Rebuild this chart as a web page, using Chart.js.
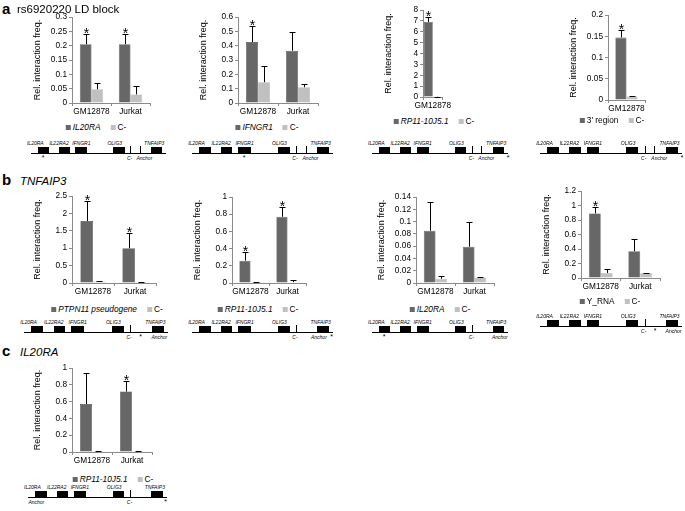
<!DOCTYPE html>
<html>
<head>
<meta charset="utf-8">
<script src="https://cdn.jsdelivr.net/npm/chart.js@4.4.1/dist/chart.umd.min.js"></script>
<style>
  body { margin: 0; width: 685px; height: 511px; position: relative; background: #fff; overflow: hidden;
         font-family: "Liberation Sans", Arial, sans-serif; color: #000; }
  .abs { position: absolute; white-space: nowrap; }
  .letter { font-weight: bold; font-size: 15px; line-height: 15px; }
  .head { font-size: 11.5px; line-height: 12px; }
  .legend { font-size: 8.3px; line-height: 9px; transform: translateX(-50%); color: #000; }
  .legend i.sw { display: inline-block; width: 5px; height: 5px; margin-right: 2px; vertical-align: 0; }
  .legend span + span { margin-left: 10px; }
  .lab { font-size: 5px; line-height: 6px; font-style: italic; transform: translateX(-50%); color: #000; }
  canvas { position: absolute; }
</style>
</head>
<body>
<script>
// Cell lines on the x axis
const cellLines = ['GM12878', 'Jurkat'];
const gmOnly = ['GM12878'];

// a: rs6920220 LD block
const a1Main = [0.205, 0.205], a1MainErr = [0.037, 0.037], a1Ctrl = [0.048, 0.030], a1CtrlErr = [0.022, 0.031];
const a2Main = [0.425, 0.365], a2MainErr = [0.110, 0.130], a2Ctrl = [0.145, 0.110], a2CtrlErr = [0.110, 0.025];
const a3Main = [6.9], a3MainErr = [0.5], a3Ctrl = [0.02], a3CtrlErr = [0.01];
const a4Main = [0.147], a4MainErr = [0.018], a4Ctrl = [0.008], a4CtrlErr = [0.002];

// b: TNFAIP3
const b1Main = [1.78, 1.00], b1MainErr = [0.58, 0.45], b1Ctrl = [0.04, 0.03], b1CtrlErr = [0.005, 0.005];
const b2Main = [0.26, 0.77], b2MainErr = [0.10, 0.11], b2Ctrl = [0.01, 0.01], b2CtrlErr = [0.002, 0.02];
const b3Main = [0.085, 0.059], b3MainErr = [0.047, 0.040], b3Ctrl = [0.007, 0.008], b3CtrlErr = [0.004, 0.001];
const b4Main = [0.89, 0.37], b4MainErr = [0.09, 0.17], b4Ctrl = [0.07, 0.065], b4CtrlErr = [0.05, 0.005];

// c: IL20RA
const c1Main = [0.57, 0.72], c1MainErr = [0.37, 0.13], c1Ctrl = [0.01, 0.01], c1CtrlErr = [0.002, 0.002];

// y axis ranges (max, step)
const a1Ticks = [0.3, 0.05], a2Ticks = [0.6, 0.1], a3Ticks = [8, 1], a4Ticks = [0.2, 0.05];
const b1Ticks = [2.5, 0.5], b2Ticks = [1, 0.2], b3Ticks = [0.14, 0.02], b4Ticks = [1.2, 0.2];
const c1Ticks = [1, 0.2];

Chart.defaults.font.family = '"Liberation Sans", Arial, sans-serif';
Chart.defaults.color = '#000';

const DARK = '#676767', LIGHT = '#c0c0c0', AXIS = '#8a8a8a';

// error bars (upper only) and significance stars
const errorBars = {
  id: 'errorBars',
  afterDatasetsDraw(chart) {
    const { ctx, scales: { y } } = chart;
    ctx.save();
    ctx.strokeStyle = '#000';
    ctx.fillStyle = '#000';
    ctx.lineWidth = 1;
    ctx.textAlign = 'center';
    ctx.textBaseline = 'alphabetic';
    ctx.font = '14px "Liberation Sans", Arial, sans-serif';
    chart.data.datasets.forEach((ds, di) => {
      chart.getDatasetMeta(di).data.forEach((bar, i) => {
        const x = Math.round(bar.x) + 0.5;
        const top = Math.round(y.getPixelForValue(ds.data[i] + ds.errors[i])) + 0.5;
        ctx.beginPath();
        ctx.moveTo(x, bar.y);
        ctx.lineTo(x, top);
        ctx.moveTo(x - 3, top);
        ctx.lineTo(x + 3, top);
        ctx.stroke();
        if (ds.stars && ds.stars[i]) ctx.fillText('*', x, top + 3);
      });
    });
    ctx.restore();
  }
};

const Y_W = 40, PAD_T = 8, PAD_R = 6, X_H = 16;

function makeChart(p) {
  const cv = document.createElement('canvas');
  const w = Y_W + (p.R - p.L) + PAD_R, h = PAD_T + (p.B - p.T) + X_H;
  cv.width = w; cv.height = h;
  cv.style.left = (p.L - Y_W) + 'px';
  cv.style.top = (p.T - PAD_T) + 'px';
  document.body.appendChild(cv);
  new Chart(cv, {
    type: 'bar',
    data: {
      labels: p.cats,
      datasets: [
        { label: p.name, data: p.main, errors: p.mainErr, stars: p.stars,
          backgroundColor: DARK, borderColor: '#4f4f4f', borderWidth: 0.6 },
        { label: 'C-', data: p.ctrl, errors: p.ctrlErr,
          backgroundColor: LIGHT, borderColor: '#b0b0b0', borderWidth: 0.6 }
      ]
    },
    options: {
      responsive: false,
      animation: false,
      layout: { padding: { top: PAD_T, right: PAD_R, left: 0, bottom: 0 } },
      plugins: { legend: { display: false }, tooltip: { enabled: false } },
      datasets: { bar: { categoryPercentage: p.catPct || 0.6, barPercentage: 1 } },
      scales: {
        x: {
          ticks: { font: { size: 8.3 }, padding: 1, maxRotation: 0, minRotation: 0, autoSkip: false },
          grid: { offset: true, drawOnChartArea: false, tickLength: 3, color: AXIS },
          border: { color: AXIS },
          afterFit: s => { s.height = X_H; }
        },
        y: {
          min: 0, max: p.ticks[0],
          ticks: { stepSize: p.ticks[1], font: { size: 8.3 }, padding: 2, autoSkip: false,
                   callback: v => String(+v.toFixed(4)) },
          grid: { drawOnChartArea: false, tickLength: 3, color: AXIS },
          border: { color: AXIS },
          title: { display: true, text: 'Rel. interaction freq.', font: { size: 9 }, padding: 0 },
          afterFit: s => { s.width = Y_W; }
        }
      }
    },
    plugins: [errorBars]
  });
}

function addDiv(cls, x, y, html) {
  const d = document.createElement('div');
  d.className = 'abs ' + cls;
  d.style.left = x + 'px';
  d.style.top = y + 'px';
  d.innerHTML = html;
  document.body.appendChild(d);
  return d;
}

function makeLegend(p) {
  const name = p.italic ? '<i>' + p.name + '</i>' : p.name;
  addDiv('legend', p.lx, p.ly,
    `<span><i class="sw" style="background:${DARK}"></i>${name}</span>` +
    `<span><i class="sw" style="background:${LIGHT}"></i>C-</span>`);
}

// locus schematic: genes as black boxes on a line
const genes = [
  { name: 'IL20RA', s: 0.05, e: 0.134, shift: -0.06 },
  { name: 'IL22RA2', s: 0.207, e: 0.287, shift: -0.04 },
  { name: 'IFNGR1', s: 0.328, e: 0.418, shift: 0.0 },
  { name: 'OLIG3', s: 0.608, e: 0.693, shift: -0.03 },
  { name: 'TNFAIP3', s: 0.888, e: 0.973, shift: -0.018 }
];

function makeLocus(lc) {
  const W = lc.x1 - lc.x0, px = r => lc.x0 + r * W;
  const line = addDiv('', lc.x0, lc.y, '');
  line.style.width = W + 'px'; line.style.height = '1px'; line.style.background = '#000';
  genes.forEach(g => {
    const b = addDiv('', px(g.s), lc.y - 6, '');
    b.style.width = (px(g.e) - px(g.s)) + 'px'; b.style.height = '7px'; b.style.background = '#000';
    addDiv('lab', px((g.s + g.e) / 2 + g.shift), lc.y - 13, g.name);
  });
  lc.marks.forEach(r => {
    const t = addDiv('', px(r), lc.y - 7, '');
    t.style.width = '1px'; t.style.height = '8px'; t.style.background = '#000';
  });
  lc.below.forEach(([txt, r]) => {
    const d = addDiv('lab', px(r), lc.y + 2, txt);
    if (txt === '*') { d.style.fontStyle = 'normal'; d.style.fontSize = '7px'; }
  });
}

const panels = [
  { name: 'IL20RA', italic: true, cats: cellLines, main: a1Main, mainErr: a1MainErr, ctrl: a1Ctrl, ctrlErr: a1CtrlErr,
    ticks: a1Ticks, stars: [true, true], L: 72, R: 150, T: 17, B: 103, lx: 96, ly: 123,
    locus: { x0: 31, x1: 166, y: 153, marks: [0.737, 0.805], below: [['*', 0.09], ['C-', 0.73], ['Anchor', 0.84]] } },
  { name: 'IFNGR1', italic: true, cats: cellLines, main: a2Main, mainErr: a2MainErr, ctrl: a2Ctrl, ctrlErr: a2CtrlErr,
    ticks: a2Ticks, stars: [true, false], L: 238, R: 318, T: 17, B: 103, lx: 267, ly: 123,
    locus: { x0: 192, x1: 333, y: 153, marks: [0.737, 0.805], below: [['*', 0.37], ['C-', 0.73], ['Anchor', 0.84]] } },
  { name: 'RP11-10J5.1', italic: true, cats: gmOnly, main: a3Main, mainErr: a3MainErr, ctrl: a3Ctrl, ctrlErr: a3CtrlErr,
    ticks: a3Ticks, stars: [true], L: 423, R: 449, T: 10, B: 97, catPct: 0.9, lx: 434, ly: 117,
    locus: { x0: 372, x1: 508, y: 153, marks: [0.737, 0.805], below: [['C-', 0.73], ['Anchor', 0.84], ['*', 1.0]] } },
  { name: "3' region", italic: false, cats: gmOnly, main: a4Main, mainErr: a4MainErr, ctrl: a4Ctrl, ctrlErr: a4CtrlErr,
    ticks: a4Ticks, stars: [true], L: 608, R: 645, T: 15, B: 100, catPct: 0.6, lx: 612, ly: 116,
    locus: { x0: 540, x1: 682, y: 153, marks: [0.737, 0.805], below: [['C-', 0.73], ['Anchor', 0.84], ['*', 1.0]] } },
  { name: 'PTPN11 pseudogene', italic: true, cats: cellLines, main: b1Main, mainErr: b1MainErr, ctrl: b1Ctrl, ctrlErr: b1CtrlErr,
    ticks: b1Ticks, stars: [true, true], L: 72, R: 156, T: 196, B: 283, lx: 107, ly: 305,
    locus: { x0: 24, x1: 168, y: 332, marks: [0.737], below: [['C-', 0.73], ['*', 0.81], ['Anchor', 0.94]] } },
  { name: 'RP11-10J5.1', italic: true, cats: cellLines, main: b2Main, mainErr: b2MainErr, ctrl: b2Ctrl, ctrlErr: b2CtrlErr,
    ticks: b2Ticks, stars: [true, true], L: 232, R: 306, T: 197, B: 283, lx: 258, ly: 305,
    locus: { x0: 192, x1: 333, y: 332, marks: [0.737], below: [['C-', 0.73], ['Anchor', 0.9], ['*', 0.99]] } },
  { name: 'IL20RA', italic: true, cats: cellLines, main: b3Main, mainErr: b3MainErr, ctrl: b3Ctrl, ctrlErr: b3CtrlErr,
    ticks: b3Ticks, stars: [false, false], L: 416, R: 494, T: 197, B: 283, lx: 440, ly: 305,
    locus: { x0: 372, x1: 508, y: 332, marks: [0.737], below: [['*', 0.09], ['C-', 0.73], ['Anchor', 0.94]] } },
  { name: 'Y_RNA', italic: false, cats: cellLines, main: b4Main, mainErr: b4MainErr, ctrl: b4Ctrl, ctrlErr: b4CtrlErr,
    ticks: b4Ticks, stars: [true, false], L: 581, R: 660, T: 191, B: 278, lx: 610, ly: 297,
    locus: { x0: 540, x1: 682, y: 326, marks: [0.737], below: [['C-', 0.73], ['*', 0.81], ['Anchor', 0.94]] } },
  { name: 'RP11-10J5.1', italic: true, cats: cellLines, main: c1Main, mainErr: c1MainErr, ctrl: c1Ctrl, ctrlErr: c1CtrlErr,
    ticks: c1Ticks, stars: [false, true], L: 72, R: 152, T: 368, B: 452, lx: 113, ly: 475,
    locus: { x0: 28, x1: 167, y: 497, marks: [0.737], below: [['Anchor', 0.06], ['C-', 0.73], ['*', 0.99]] } }
];

panels.forEach(p => { makeChart(p); makeLegend(p); makeLocus(p.locus); });

// panel headings
addDiv('letter', 2, 1, 'a');
addDiv('head', 17, 3, 'rs6920220 LD block');
addDiv('letter', 2, 172, 'b');
addDiv('head', 20, 175, '<i>TNFAIP3</i>');
addDiv('letter', 2, 343, 'c');
addDiv('head', 20, 346, '<i>IL20RA</i>');
</script>
</body>
</html>
